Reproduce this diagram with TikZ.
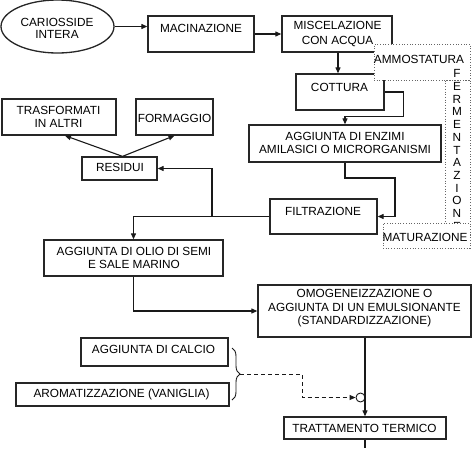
\documentclass[tikz,border=0pt]{standalone}
\usepackage{fontspec}
\setmainfont{Liberation Sans}
\usetikzlibrary{arrows.meta,shapes.geometric,decorations.pathreplacing,calc}
\begin{document}
\begin{tikzpicture}[x=1pt,y=-1pt,
 box/.style={draw=black!85, line width=1.3pt, inner sep=0, fill=white},
 txt/.style={inner sep=0, align=center, font=\fontsize{11.8}{13}\selectfont},
 arr/.style={draw=black!90, line width=1.1pt, -{Triangle[length=6pt,width=5pt]}},
 ln/.style={draw=black!90, line width=1.1pt},
 dotbox/.style={draw=black!60, line width=0.7pt, dotted, fill=white}]
\useasboundingbox (0,0) rectangle (474,448);
% boxes
\node[box, ellipse, minimum width=113, minimum height=53] (ell) at (57.5,26.5) {};
\node[box, minimum width=106, minimum height=36] (mac) at (201,34) {};
\node[box, minimum width=110, minimum height=36] (misc) at (337,34) {};
\node[box, minimum width=88, minimum height=36] (cot) at (340,92) {};
\node[box, minimum width=192, minimum height=37] (enz) at (345,143.5) {};
\node[box, minimum width=107, minimum height=35] (fil) at (323.5,216.5) {};
\node[box, minimum width=75, minimum height=23] (res) at (119.5,168.5) {};
\node[box, minimum width=114, minimum height=36] (tra) at (59,117) {};
\node[box, minimum width=77, minimum height=36] (for) at (174.5,117) {};
\node[box, minimum width=179, minimum height=36] (olio) at (133.5,258) {};
\node[box, minimum width=213, minimum height=52] (omo) at (364.5,311) {};
\node[box, minimum width=147, minimum height=28] (cal) at (154.5,352) {};
\node[box, minimum width=213, minimum height=23] (aro) at (122.5,394.5) {};
\node[box, minimum width=162, minimum height=22] (trt) at (365,428) {};
% dotted phase boxes
\node[dotbox, minimum width=96, minimum height=36] (amm) at (422,62) {};
\node[dotbox, minimum width=25, minimum height=168, fill=none] (fstrip) at (457.5,164) {};
\node[txt, font=\fontsize{11.8}{12.7}\selectfont, anchor=north] (ferm) at (457,69.5) {F\\E\\R\\M\\E\\N\\T\\A\\Z\\I\\O\\N\\E};
\node[dotbox, minimum width=87, minimum height=25] (mat) at (426.5,235.5) {};
% texts
\node[txt, font=\fontsize{11.8}{11.5}\selectfont] (tell) at (57,28.5) {CARIOSSIDE\\INTERA};
\node[txt] (tmac) at (201,28.5) {MACINAZIONE};
\node[txt, font=\fontsize{11.8}{15}\selectfont] (tmisc) at (337.5,34) {MISCELAZIONE\\CON ACQUA};
\node[txt] (tamm) at (419,59.5) {AMMOSTATURA};
\node[txt] (tmat) at (425,237) {MATURAZIONE};
\node[txt] (tcot) at (339.5,87) {COTTURA};
\node[txt, font=\fontsize{11.8}{12.5}\selectfont] (tenz) at (345,143) {AGGIUNTA DI ENZIMI\\AMILASICI O MICRORGANISMI};
\node[txt] (tfil) at (323,211) {FILTRAZIONE};
\node[txt] (tres) at (120,167.5) {RESIDUI};
\node[txt] (ttra) at (58.5,116.5) {TRASFORMATI\\IN ALTRI};
\node[txt] (tfor) at (174.5,118) {FORMAGGIO};
\node[txt] (tolio) at (134,257.5) {AGGIUNTA DI OLIO DI SEMI\\E SALE MARINO};
\node[txt, font=\fontsize{11.8}{13.5}\selectfont] (tomo) at (364.5,308.5) {OMOGENEIZZAZIONE O\\AGGIUNTA DI UN EMULSIONANTE\\(STANDARDIZZAZIONE)};
\node[txt] (tcal) at (153.5,349) {AGGIUNTA DI CALCIO};
\node[txt] (taro) at (121.5,394) {AROMATIZZAZIONE (VANIGLIA)};
\node[txt] (ttrt) at (364.5,428) {TRATTAMENTO TERMICO};
% junction circle
\node[circle, draw=black!90, line width=0.9pt, minimum size=9, inner sep=0] (jn) at (360.5,397.5) {};
% helper coordinates
\coordinate (c5) at (395,178);
\coordinate (j1) at (212,217);
\coordinate (bt) at (240,374);
\coordinate (bot) at (365,448);
% connectors
\draw[arr] (ell.east) -- (ell.east -| mac.west);
\draw[arr] (mac.east) -- (misc.west);
\draw[arr] (misc.south -| 338,0) -- (cot.north -| 338,0);
\draw[arr] (cot.east) -- ++(19,0) |- ($(enz.north)+(0,-8)$) -- (enz.north);
\draw[arr] (enz.south) |- (c5) |- (fil.east);
\draw[ln] (fil.west) -- (fil.west -| j1);
\draw[arr] (fil.west -| j1) |- (res.east);
\draw[arr] (fil.west -| j1) -| (olio.north);
\draw[arr] ($(res.north)+(3,0)$) -- ($(tra.south)+(6,0)$);
\draw[arr] ($(res.north)+(3,0)$) -- (for.south);
\draw[arr] (olio.south) |- (omo.west);
\draw[arr] (omo.south -| trt.north) -- (trt.north);
\draw[ln] (trt.south) -- (bot);
\draw[ln, line width=0.9pt, decorate, decoration={brace, amplitude=8pt}] (232,348) -- (232,400);
\draw[arr, line width=0.9pt, dash pattern=on 4pt off 3pt] (bt) -- (302,374) |- (jn.west);
\end{tikzpicture}
\end{document}
